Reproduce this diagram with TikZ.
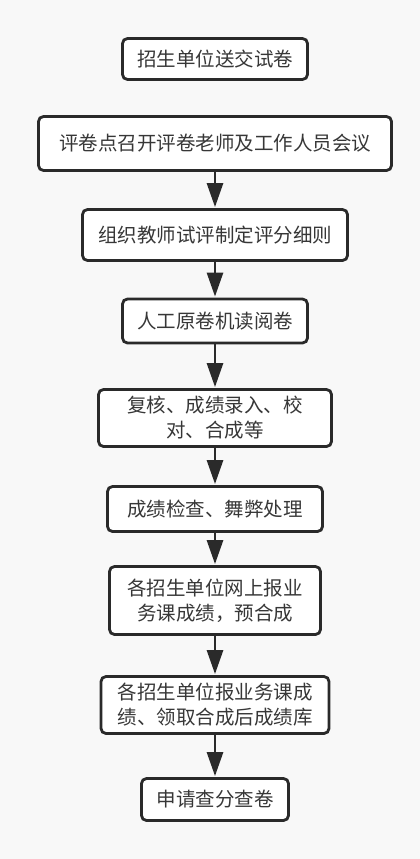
\documentclass[tikz,border=0pt]{standalone}
\usepackage{fontspec}
\setmainfont{Noto Sans CJK SC}
\usetikzlibrary{arrows.meta}
\definecolor{ink}{RGB}{42,42,42}
\definecolor{txt}{RGB}{55,55,55}
\definecolor{bg}{RGB}{248,248,248}
\tikzset{
  stepbox/.style={draw=ink, line width=2.8pt, rounded corners=5pt, fill=white,
    inner sep=0pt, align=center, text=txt,
    font=\fontsize{19.5}{25}\selectfont},
  flow/.style={draw=ink, line width=2.8pt,
    -{Triangle[length=24pt,width=16pt]}, shorten >=1pt}
}
\begin{document}
\begin{tikzpicture}[x=1pt,y=-1pt]
\fill[bg] (0,0) rectangle (420,859);
\useasboundingbox (0,0) rectangle (420,859);
\node[stepbox, minimum width=185pt, minimum height=41pt] (b1) at (215,59) {招生单位送交试卷};
\node[stepbox, minimum width=353pt, minimum height=54pt] (b2) at (215,143.5) {评卷点召开评卷老师及工作人员会议};
\node[stepbox, minimum width=265pt, minimum height=51pt] (b3) at (215,235) {组织教师试评制定评分细则};
\node[stepbox, minimum width=185pt, minimum height=44pt] (b4) at (215,321) {人工原卷机读阅卷};
\node[stepbox, minimum width=233pt, minimum height=57pt] (b5) at (215,418) {复核、成绩录入、校\\对、合成等};
\node[stepbox, minimum width=215pt, minimum height=45pt] (b6) at (215,509) {成绩检查、舞弊处理};
\node[stepbox, minimum width=211pt, minimum height=68pt] (b7) at (215,600.5) {各招生单位网上报业\\务课成绩，预合成};
\node[stepbox, minimum width=228pt, minimum height=57pt] (b8) at (215,705) {各招生单位报业务课成\\绩、领取合成后成绩库};
\node[stepbox, minimum width=147pt, minimum height=42pt] (b9) at (215,799.5) {申请查分查卷};
\draw[flow] (b2) -- (b3);
\draw[flow] (b3) -- (b4);
\draw[flow] (b4) -- (b5);
\draw[flow] (b5) -- (b6);
\draw[flow] (b6) -- (b7);
\draw[flow] (b7) -- (b8);
\draw[flow] (b8) -- (b9);
\end{tikzpicture}
\end{document}
